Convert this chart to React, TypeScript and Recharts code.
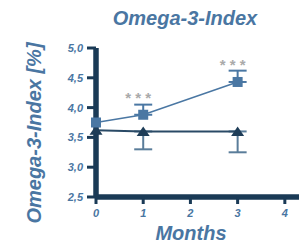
import React from 'react';
import { LineChart, Line, XAxis, YAxis, ErrorBar, LabelList, Label, ReferenceLine } from 'recharts';

const months = [0, 1, 3];
const omegaTreatment = [3.75, 3.88, 4.43];
const omegaTreatmentErrUp = [null, 0.17, 0.19];
const omegaControl = [3.62, 3.6, 3.6];
const omegaControlErrDown = [null, 0.3, 0.35];
const significance = ['', '* * *', '* * *'];
const xTicks = [0, 1, 2, 3, 4];
const yTicks = [2.5, 3, 3.5, 4, 4.5, 5];

const TITLE = 'Omega-3-Index';
const Y_LABEL = 'Omega-3-Index [%]';
const X_LABEL = 'Months';

const data = months.map((m, i) => ({
  month: m,
  treatment: omegaTreatment[i],
  treatmentErr: omegaTreatmentErrUp[i] == null ? null : [0, omegaTreatmentErrUp[i]],
  control: omegaControl[i],
  controlErr: omegaControlErrDown[i] == null ? null : [omegaControlErrDown[i], 0],
  stars: significance[i],
}));

const FONT = '"Liberation Sans", Arial, sans-serif';
const TEXT_BLUE = '#4a76a2';
const AXIS_DARK = '#1a3a56';
const SQUARE_BLUE = '#4a77a3';
const TRI_DARK = '#1e3d58';

const SquareDot = (props: any) => {
  const { cx, cy, index } = props;
  if (cx == null || cy == null) return <g key={`sq-${index}`} />;
  return <rect key={`sq-${index}`} x={cx - 5} y={cy - 5} width={10} height={10} fill={SQUARE_BLUE} />;
};

const TriangleDot = (props: any) => {
  const { cx, cy, index } = props;
  if (cx == null || cy == null) return <g key={`tr-${index}`} />;
  return (
    <polygon
      key={`tr-${index}`}
      points={`${cx},${cy - 5} ${cx - 6.5},${cy + 4.5} ${cx + 6.5},${cy + 4.5}`}
      fill={TRI_DARK}
    />
  );
};

const StarsLabel = (props: any) => {
  const { x, y, value } = props;
  if (!value) return null;
  return (
    <text x={x - 5} y={y - 12} textAnchor="middle" fill="#aaaaaa" fontSize={15} fontFamily={FONT} fontWeight="bold">
      {value}
    </text>
  );
};

const Y_TICK_SIZE = 9;
const Y_TICK_MARGIN = 4;
const X_TICK_SIZE = 7;
const X_TICK_MARGIN = 5;

const YTick = (props: any) => {
  const { x, y, payload } = props;
  const x0 = x + Y_TICK_MARGIN;
  return (
    <g>
      <line x1={x0} x2={x0 + Y_TICK_SIZE} y1={y} y2={y} stroke={AXIS_DARK} strokeWidth={3} />
      <text x={x} y={y} dy="0.36em" textAnchor="end" fill={TEXT_BLUE} fontSize={11} fontFamily={FONT} fontWeight="bold" fontStyle="italic">
        {Number(payload.value).toFixed(1).replace('.', ',')}
      </text>
    </g>
  );
};

const XTick = (props: any) => {
  const { x, y, payload } = props;
  const y0 = y - X_TICK_MARGIN;
  return (
    <g>
      <line x1={x} x2={x} y1={y0 - X_TICK_SIZE} y2={y0} stroke={AXIS_DARK} strokeWidth={3} />
      <text x={x} y={y} dy="0.71em" textAnchor="middle" fill={TEXT_BLUE} fontSize={11} fontFamily={FONT} fontWeight="bold" fontStyle="italic">
        {payload.value}
      </text>
    </g>
  );
};

const MonthsLabel = () => (
  <text x={191} y={240} textAnchor="middle" fill={TEXT_BLUE} fontSize={20} fontFamily={FONT} fontWeight="bold" fontStyle="italic">
    {X_LABEL}
  </text>
);

const YTitle = () => (
  <text x={41} y={133} transform="rotate(-90, 41, 133)" textAnchor="middle" fill={TEXT_BLUE} fontSize={20} fontFamily={FONT} fontWeight="bold" fontStyle="italic">
    {Y_LABEL}
  </text>
);

const ChartTitle = () => (
  <text x={185} y={25} textAnchor="middle" fill={TEXT_BLUE} fontSize={20} fontFamily={FONT} fontWeight="bold" fontStyle="italic">
    {TITLE}
  </text>
);

export default function App() {
  return (
    <div style={{ position: 'absolute', left: 0, top: 0, width: 299, height: 245, background: '#fff' }}>
      <LineChart width={299} height={245} data={data} margin={{ top: 48, right: 0, bottom: 0, left: 0 }}>
        <XAxis
          type="number"
          dataKey="month"
          domain={[0, 4.3]}
          ticks={xTicks}
          height={48}
          axisLine={{ stroke: AXIS_DARK, strokeWidth: 5 }}
          tickLine={false}
          tickSize={X_TICK_SIZE}
          tickMargin={X_TICK_MARGIN}
          tick={<XTick />}
          interval={0}
        >
          <Label content={<MonthsLabel />} />
        </XAxis>
        <YAxis
          type="number"
          domain={[2.5, 5]}
          ticks={yTicks}
          width={96}
          axisLine={{ stroke: AXIS_DARK, strokeWidth: 5 }}
          tickLine={false}
          tickSize={Y_TICK_SIZE}
          tickMargin={Y_TICK_MARGIN}
          tick={<YTick />}
          interval={0}
        >
          <Label content={<YTitle />} />
          <Label content={<ChartTitle />} />
        </YAxis>
        <ReferenceLine y={2.5} stroke={AXIS_DARK} strokeWidth={5} />
        <ReferenceLine x={0} stroke={AXIS_DARK} strokeWidth={5} />
        <Line
          dataKey="control"
          stroke="#2a4a66"
          strokeWidth={2}
          dot={TriangleDot}
          activeDot={false}
          isAnimationActive={false}
        >
          <ErrorBar dataKey="controlErr" direction="y" width={9} strokeWidth={2} stroke="#5a7d9a" />
        </Line>
        <Line
          dataKey="treatment"
          stroke={SQUARE_BLUE}
          strokeWidth={1.5}
          dot={SquareDot}
          activeDot={false}
          isAnimationActive={false}
        >
          <ErrorBar dataKey="treatmentErr" direction="y" width={9} strokeWidth={2} stroke={SQUARE_BLUE} />
          <LabelList dataKey="stars" content={StarsLabel} />
        </Line>
      </LineChart>
    </div>
  );
}
